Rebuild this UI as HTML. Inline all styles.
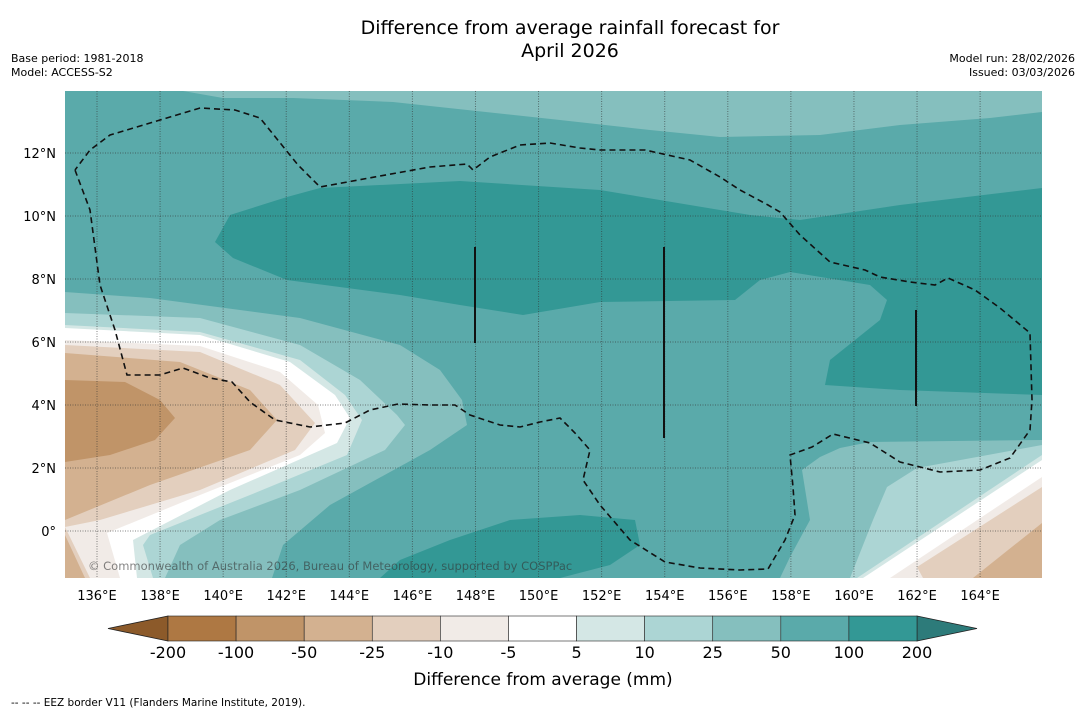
<!DOCTYPE html>
<html><head><meta charset="utf-8"><style>
body{margin:0;background:#fff;width:1085px;height:713px;overflow:hidden;font-family:"DejaVu Sans","Liberation Sans",sans-serif}
svg{position:absolute;left:0;top:0}
</style></head><body>
<svg width="1085" height="713" font-family="DejaVu Sans, Liberation Sans, sans-serif">
<text x="570" y="34" text-anchor="middle" font-size="19">Difference from average rainfall forecast for</text>
<text x="570" y="57" text-anchor="middle" font-size="19">April 2026</text>
<text x="11" y="62" font-size="11">Base period: 1981-2018</text>
<text x="11" y="76" font-size="11">Model: ACCESS-S2</text>
<text x="1075" y="62" font-size="11" text-anchor="end">Model run: 28/02/2026</text>
<text x="1075" y="76" font-size="11" text-anchor="end">Issued: 03/03/2026</text>
<defs><clipPath id="mc"><rect x="65" y="91" width="977" height="487"/></clipPath></defs>
<g clip-path="url(#mc)">
<rect x="65" y="91" width="977" height="487" fill="#5aaaaa"/>
<polygon fill="#85bfbe" points="183,91 1042,91 1042,112 990,118 900,125 820,135 720,137 650,130 560,120 393,102 293,98 223,98"/>
<polygon fill="#339895" points="215,242 230,215 287,197 320,188 460,181 600,190 750,215 800,220 900,205 1042,188 1042,395 900,390 825,385 830,360 880,320 887,300 870,285 790,272 760,280 735,300 600,302 523,315 460,305 400,295 287,280 233,258"/>
<polygon fill="#339895" points="380,578 400,560 450,540 510,520 580,515 635,520 640,545 610,565 560,578"/>
<polygon fill="#85bfbe" points="65,292 150,298 300,318 400,345 440,370 462,400 467,425 430,450 330,505 283,545 272,578 65,578"/>
<polygon fill="#acd5d4" points="65,313 200,318 300,345 360,380 397,415 405,425 385,450 300,490 220,520 180,545 165,578 65,578"/>
<polygon fill="#d4e7e5" points="65,325 200,332 300,360 345,395 362,420 347,455 250,495 150,535 143,545 153,578 65,578"/>
<polygon fill="#ffffff" points="65,328 200,335 290,362 335,395 350,418 337,443 230,490 133,540 137,578 65,578"/>
<polygon fill="#f1ebe7" points="65,340 200,346 280,372 318,405 325,433 300,455 200,495 107,533 120,578 65,578"/>
<polygon fill="#e3cfbe" points="65,345 200,352 280,385 315,423 295,450 200,490 100,520 65,527"/>
<polygon fill="#e3cfbe" points="65,527 90,578 65,578"/>
<polygon fill="#d3b190" points="65,353 180,362 250,390 277,420 250,450 150,485 65,520"/>
<polygon fill="#d3b190" points="65,535 85,578 65,578"/>
<polygon fill="#c09468" points="65,380 125,382 160,400 175,418 155,440 110,455 65,462"/>
<polygon fill="#85bfbe" points="1042,440 870,442 840,448 820,457 802,470 810,520 790,557 780,578 1042,578"/>
<polygon fill="#acd5d4" points="1042,445 917,468 887,487 873,520 850,578 1042,578"/>
<polygon fill="#d4e7e5" points="1042,455 857,578 1042,578"/>
<polygon fill="#ffffff" points="1042,460 863,578 1042,578"/>
<polygon fill="#f1ebe7" points="1042,477 890,578 1042,578"/>
<polygon fill="#e3cfbe" points="1042,487 917,567 923,578 1042,578"/>
<polygon fill="#d3b190" points="1042,523 973,578 1042,578"/>
<g id="grid" stroke="#333" stroke-opacity="0.6" stroke-width="1" stroke-dasharray="1,1.5"></g>
<polyline fill="none" stroke="#111" stroke-width="1.6" stroke-dasharray="6,4" points="75,170 90,210 100,285 115,330 127,375 160,375 183,368 210,378 232,382 250,402 275,420 310,427 345,423 370,410 398,404 430,405 455,405 470,415 500,425 520,427 540,422 560,418 575,433 590,450 583,480 600,505 630,540 665,562 700,568 740,570 768,569 785,540 795,515 793,487 790,455 812,447 833,434 870,443 900,462 940,472 980,470 1010,458 1030,430 1032,400 1030,333 1000,308 975,290 948,278 935,285 910,282 880,277 865,270 830,262 800,235 780,212 768,205 740,190 720,177 690,160 645,150 600,150 580,148 550,143 520,145 490,157 473,170 467,164 430,167 380,176 320,187 298,165 260,118 235,110 200,108 160,120 110,135 90,150 75,170"/>
<g stroke="#111" stroke-width="2"><line x1="475" y1="247" x2="475" y2="343"/><line x1="664" y1="247" x2="664" y2="438"/><line x1="916" y1="310" x2="916" y2="406"/></g>
<text x="88" y="570" font-size="11.5" fill="#333" fill-opacity="0.6">© Commonwealth of Australia 2026, Bureau of Meteorology, supported by COSPPac</text>
</g>
<g id="axes" font-size="13"></g>
<g id="cbar"></g>
<text x="543" y="685" text-anchor="middle" font-size="17">Difference from average (mm)</text>
<text x="11" y="706" font-size="10.5">--  --  -- EEZ border V11 (Flanders Marine Institute, 2019).</text>
</svg>
<script>
const lonTicks=[136,138,140,142,144,146,148,150,152,154,156,158,160,162,164];
const latTicks=[0,2,4,6,8,10,12];
const levels=["-200","-100","-50","-25","-10","-5","5","10","25","50","100","200"];
const colors=["#ae7843","#c09468","#d3b190","#e3cfbe","#f1ebe7","#ffffff","#d4e7e5","#acd5d4","#85bfbe","#5aaaaa","#339895"];
const NS="http://www.w3.org/2000/svg";
const xL=l=>97+(l-136)*31.54, yL=l=>531-l*31.5;
function mk(t,a,p){const e=document.createElementNS(NS,t);for(const k in a)e.setAttribute(k,a[k]);p.appendChild(e);return e;}
const grid=document.getElementById('grid'),axes=document.getElementById('axes'),cb=document.getElementById('cbar');
lonTicks.forEach(l=>{const ln=mk('line',{x1:xL(l),x2:xL(l),y1:91,y2:578},grid);


const t=mk('text',{x:xL(l),y:600,'text-anchor':'middle'},axes);t.textContent=l+'°E';

});
latTicks.forEach(l=>{const ln=mk('line',{x1:65,x2:1042,y1:yL(l),y2:yL(l)},grid);


const t=mk('text',{x:56,y:yL(l)+5,'text-anchor':'end'},axes);t.textContent=l===0?'0°':l+'°N';

});
const x0=168,x1=917,w=(x1-x0)/colors.length,cy=616,ch=25;
const lt=mk('polygon',{points:`108,${cy+ch/2} ${x0},${cy} ${x0},${cy+ch}`,fill:'#8c5a2a',stroke:'#222','stroke-width':0.8},cb);


const rt=mk('polygon',{points:`${x1},${cy} 977,${cy+ch/2} ${x1},${cy+ch}`,fill:'#2d7b7a',stroke:'#222','stroke-width':0.8},cb);


colors.forEach((c,i)=>{const r=mk('rect',{x:x0+i*w,y:cy,width:w,height:ch,fill:c,stroke:'#222','stroke-width':0.6},cb);

});
levels.forEach((v,i)=>{const t=mk('text',{x:x0+i*w,y:658,'text-anchor':'middle','font-size':16},cb);t.textContent=v;

});
</script>
</body></html>
